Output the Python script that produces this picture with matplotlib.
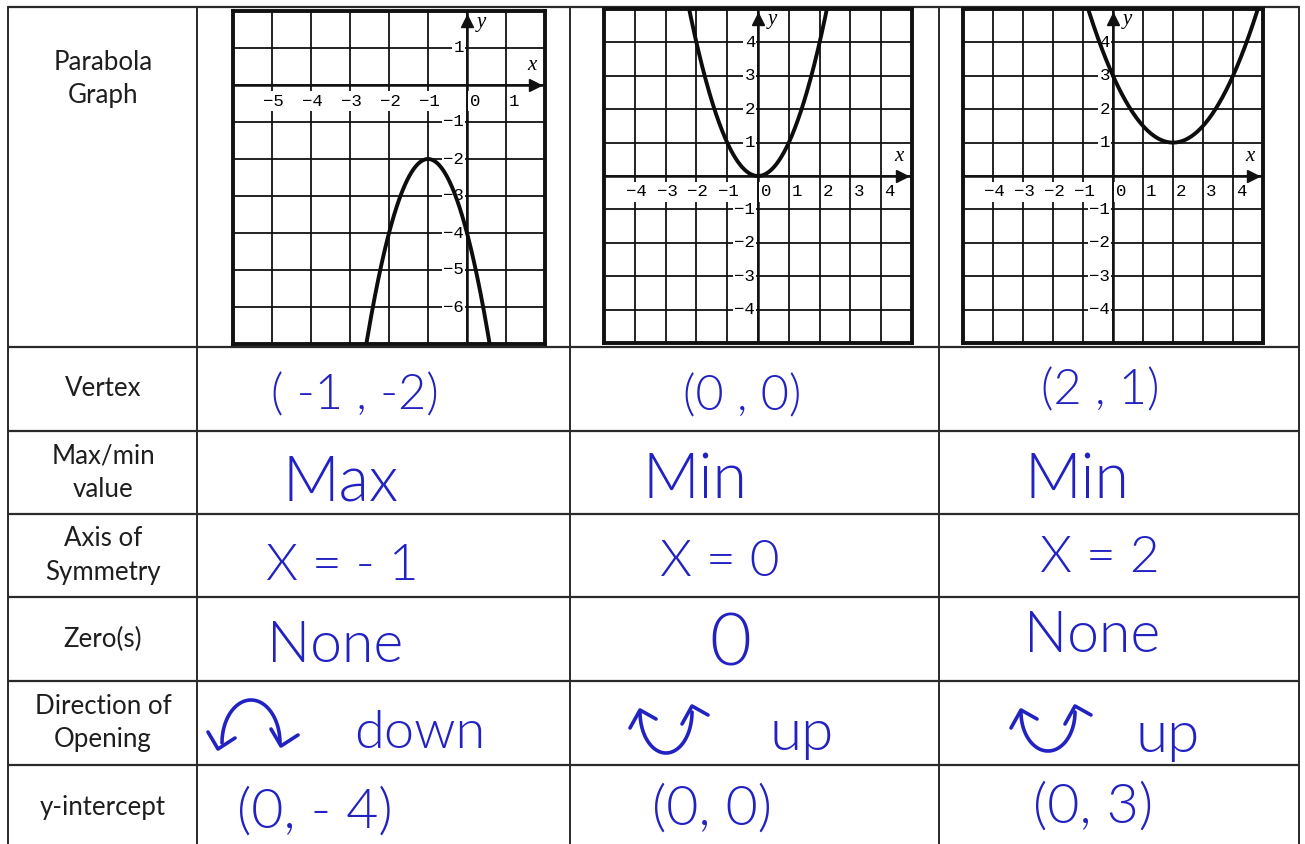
import numpy as np
import matplotlib
matplotlib.use("Agg")
import matplotlib.pyplot as plt
from matplotlib.transforms import ScaledTranslation

# ---------------- data ----------------
row_labels = ["Parabola\nGraph", "Vertex", "Max/min\nvalue", "Axis of\nSymmetry",
              "Zero(s)", "Direction of\nOpening", "y-intercept"]

coef_a = [-2, 1, 0.5]          # leading coefficient of each parabola
vertex_h = [-1, 0, 2]          # vertex x
vertex_k = [-2, 0, 1]          # vertex y
x_ranges = [(-6, 2), (-5, 5), (-5, 5)]
y_ranges = [(-7, 2), (-5, 5), (-5, 5)]
x_tick_labels = [[-5, -4, -3, -2, -1, 0, 1],
                 [-4, -3, -2, -1, 0, 1, 2, 3, 4],
                 [-4, -3, -2, -1, 0, 1, 2, 3, 4]]
y_tick_labels = [[1, -1, -2, -3, -4, -5, -6],
                 [4, 3, 2, 1, -1, -2, -3, -4],
                 [4, 3, 2, 1, -1, -2, -3, -4]]

vertex_answers = ["( -1 , -2)", "(0 , 0)", "(2 , 1)"]
maxmin_answers = ["Max", "Min", "Min"]
axis_answers = ["X = - 1", "X = 0", "X = 2"]
zero_answers = ["None", "0", "None"]
direction_answers = ["down", "up", "up"]
direction_shapes = ["arch", "cup", "cup"]
yint_answers = ["(0, - 4)", "(0, 0)", "(0, 3)"]

# ---------------- layout ----------------
W, H = 1305, 844
fig = plt.figure(figsize=(W / 100, H / 100), dpi=100)
base = fig.add_axes([0, 0, 1, 1])
base.set_xlim(0, W)
base.set_ylim(H, 0)
base.axis("off")

row_y = [7, 347, 431, 514, 597, 681, 765, 850]
col_x = [8, 197, 570, 939, 1299]
line_c = "#2a2a2a"
for y in row_y:
    base.plot([col_x[0], col_x[-1]], [y, y], color=line_c, lw=1.6, solid_capstyle="butt")
for x in col_x:
    base.plot([x, x], [row_y[0], H + 5], color=line_c, lw=1.4)

LABEL_FONT = ["Lato", "DejaVu Sans"]
for i, lab in enumerate(row_labels):
    if i == 0:
        cy = 79
    else:
        cy = (row_y[i] + row_y[i + 1]) / 2
    base.text(103, cy, lab, ha="center", va="center", fontsize=18.6,
              family=LABEL_FONT, color="#1e1e1e", linespacing=1.42)

# ---------------- graphs ----------------
graph_px = [(233, 545, 11, 344), (604, 912, 9, 343), (963, 1263, 9, 343)]
MONO = ["Liberation Mono", "DejaVu Sans Mono"]
SERIF = ["Liberation Serif", "DejaVu Serif"]

for g in range(3):
    L, R, T, B = graph_px[g]
    ax = fig.add_axes([L / W, 1 - B / H, (R - L) / W, (B - T) / H])
    x0, x1 = x_ranges[g]
    y0, y1 = y_ranges[g]
    ax.set_xlim(x0, x1)
    ax.set_ylim(y0, y1)
    ax.set_xticks(np.arange(x0, x1 + 1))
    ax.set_yticks(np.arange(y0, y1 + 1))
    ax.tick_params(length=0, labelbottom=False, labelleft=False)
    ax.grid(True, color="#111111", lw=1.3)
    ax.set_axisbelow(True)
    for sp in ax.spines.values():
        sp.set_linewidth(2.8)
        sp.set_color("#111111")
    ax.axhline(0, color="#111111", lw=1.8, zorder=2)
    ax.axvline(0, color="#111111", lw=1.8, zorder=2)
    # arrow heads
    tr_x = ax.transData + ScaledTranslation(-7 / 72, 0, fig.dpi_scale_trans)
    ax.plot([x1], [0], marker=">", ms=9, color="#111111", transform=tr_x,
            clip_on=False, zorder=5)
    tr_y = ax.transData + ScaledTranslation(0, -7 / 72, fig.dpi_scale_trans)
    ax.plot([0], [y1], marker="^", ms=9, color="#111111", transform=tr_y,
            clip_on=False, zorder=5)
    ax.annotate("x", (x1, 0), xytext=(-13, 19), textcoords="offset pixels",
                ha="center", va="center", fontsize=15, family=SERIF,
                style="italic", zorder=6)
    ax.annotate("y", (0, y1), xytext=(14, -11), textcoords="offset pixels",
                ha="center", va="center", fontsize=15, family=SERIF,
                style="italic", zorder=6)
    # tick labels
    for t in x_tick_labels[g]:
        s = str(abs(t)) if t >= 0 else "\u2212" + str(abs(t))
        dx = -9 if t < 0 else 3
        ax.annotate(s, (t, 0), xytext=(dx, -16), textcoords="offset pixels",
                    ha="left", va="center", fontsize=12.5, family=MONO, zorder=3,
                    bbox=dict(fc="white", ec="none", pad=1.5))
    for t in y_tick_labels[g]:
        s = str(abs(t)) if t >= 0 else "\u2212" + str(abs(t))
        ax.annotate(s, (0, t), xytext=(-3, 0), textcoords="offset pixels",
                    ha="right", va="center", fontsize=12.5, family=MONO, zorder=3,
                    bbox=dict(fc="white", ec="none", pad=1.0))
    # parabola
    xs = np.linspace(x0, x1, 600)
    ys = coef_a[g] * (xs - vertex_h[g]) ** 2 + vertex_k[g]
    ax.plot(xs, ys, color="#0d0d0d", lw=2.8, zorder=4)

# ---------------- handwritten answers ----------------
INK = "#2222c2"
HAND = ["Lato", "DejaVu Sans"]


def hand(x, y, s, size):
    base.text(x, y, s, ha="center", va="center", fontsize=size, family=HAND,
              weight=300, color=INK)


vertex_pos = [(355, 396), (742, 397), (1100, 391)]
maxmin_pos = [(341, 483), (695, 480), (1077, 480)]
axis_pos = [(342, 566), (720, 562), (1100, 558)]
zero_pos = [(335, 647), (730, 645), (1092, 637)]
dir_pos = [(420, 733), (802, 735), (1168, 736)]
yint_pos = [(315, 813), (712, 810), (1093, 808)]

for i in range(3):
    hand(*vertex_pos[i], vertex_answers[i], 35)
    hand(*maxmin_pos[i], maxmin_answers[i], 45)
    hand(*axis_pos[i], axis_answers[i], 37)
    hand(*zero_pos[i], zero_answers[i], 52 if zero_answers[i] == "0" else 41)
    hand(*dir_pos[i], direction_answers[i], 39 if i == 0 else 42)
    hand(*yint_pos[i], yint_answers[i], 40)

# curved arrows for direction of opening
shape_geom = [(251, 743, 29, 43), (666, 712, 26, 41), (1048, 712, 27, 39)]
t = np.linspace(0, np.pi, 80)
for i in range(3):
    cx, cy, rx, ry = shape_geom[i]
    if direction_shapes[i] == "arch":
        xs = cx - rx * np.cos(t)
        ys = cy - ry * np.sin(t)
        ends = [(cx - rx - 4, cy + 6), (cx + rx + 1, cy + 3)]
        for ex, ey in ends:
            base.plot([ex - 10, ex, ex + 17], [ey - 17, ey, ey - 11],
                      color=INK, lw=2.6, solid_capstyle="round",
                      solid_joinstyle="round")
    else:
        xs = cx - rx * np.cos(t)
        ys = cy + ry * np.sin(t)
        ends = [(cx - rx, cy - 2), (cx + rx, cy - 6)]
        for ex, ey in ends:
            base.plot([ex - 10, ex, ex + 16], [ey + 18, ey, ey + 9],
                      color=INK, lw=2.6, solid_capstyle="round",
                      solid_joinstyle="round")
    base.plot(xs, ys, color=INK, lw=2.6, solid_capstyle="round")

fig.savefig("out.png", dpi=100)
